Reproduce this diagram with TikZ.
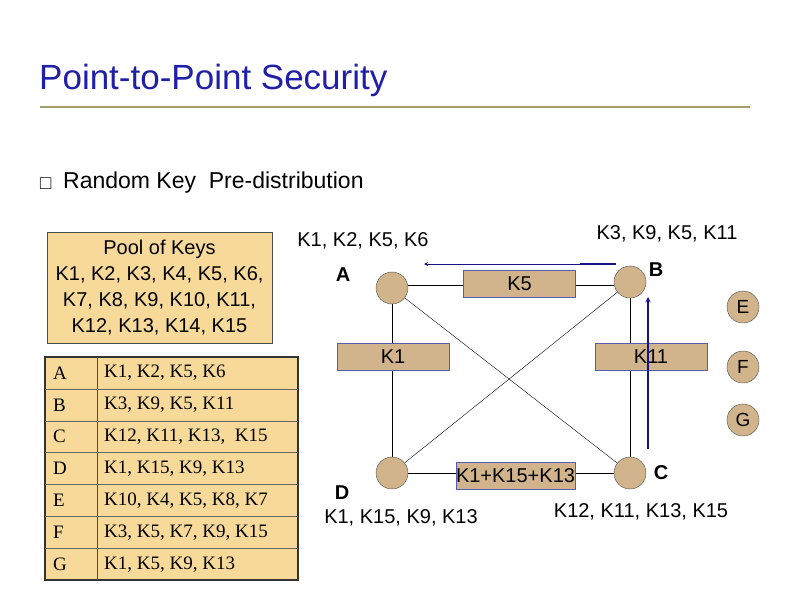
\documentclass[tikz,border=0pt]{standalone}
\usepackage{fontspec}
\setmainfont{Liberation Sans}
\newfontfamily\tms{Liberation Serif}
\usepackage{amssymb}
\definecolor{titleblue}{HTML}{1F1FA8}
\definecolor{olive}{HTML}{A0A070}
\definecolor{tan}{HTML}{D2B48C}
\definecolor{pool}{HTML}{F7D99A}
\definecolor{arr}{HTML}{14148C}
\begin{document}
\begin{tikzpicture}[x=1pt,y=-1pt,
  nd/.style={circle,draw=black!70,fill=tan,minimum size=32pt,inner sep=0pt,font=\fontsize{19}{19}\selectfont},
  kb/.style={draw=arr!70,fill=tan,minimum width=112pt,minimum height=27pt,inner sep=0pt,font=\fontsize{20}{20}\selectfont},
  lb/.style={font=\fontsize{20}{20}\selectfont,inner sep=0pt},
  bl/.style={font=\bfseries\fontsize{20}{20}\selectfont,inner sep=0pt},
  tc/.style={font=\tms\fontsize{19}{19}\selectfont,anchor=west,inner sep=0pt}]
\useasboundingbox (0,0) rectangle (794,595);
\node[anchor=west,text=titleblue,font=\fontsize{35}{35}\selectfont,inner sep=0pt] (title) at (39,80) {Point-to-Point Security};
\draw[olive,line width=2.5pt] (40,107) -- (750,107);
\node[anchor=west,inner sep=0pt,font=\fontsize{17}{17}\selectfont] (bul) at (39,184) {$\square$};
\node[anchor=west,inner sep=0pt,font=\fontsize{23}{23}\selectfont] (rk) at (63,183) {Random Key\ \ Pre-distribution};
% pool
\node[draw=black!70,fill=pool,minimum width=225pt,minimum height=111pt,align=center,font=\fontsize{20}{26}\selectfont] (poolbox) at (159.5,287.5) {Pool of Keys\\K1, K2, K3, K4, K5, K6,\\K7, K8, K9, K10, K11,\\K12, K13, K14, K15};
% table
\fill[pool] (45,357) rectangle (298,580);
\draw[line width=1.5pt,black!80] (45,357) rectangle (298,580);
\draw[black!70] (97,357) -- (97,580);
\foreach \i in {1,...,6} \draw[black!60] (45,{357+\i*31.86}) -- (298,{357+\i*31.86});
\foreach \n/\k [count=\i from 0] in {A/{K1, K2, K5, K6},B/{K3, K9, K5, K11},C/{K12, K11, K13,\ \ K15},D/{K1, K15, K9, K13},E/{K10, K4, K5, K8, K7},F/{K3, K5, K7, K9, K15},G/{K1, K5, K9, K13}}{
  \node[tc] (r\n) at (53,{373+\i*31.86}) {\n};
  \node[tc] (k\n) at (104,{373+\i*31.86}) {\k};
}
% graph
\node[nd] (A) at (392,288) {};
\node[nd] (B) at (630,282) {};
\node[nd] (C) at (630,473) {};
\node[nd] (D) at (392,473) {};
\node[nd] (E) at (743,307) {E};
\node[nd] (F) at (743,367) {F};
\node[nd] (G) at (743,420) {G};
\draw[thin] (A) -- (C);
\draw[thin] (B) -- (D);
\draw ([yshift=3pt]A.east) -- ([yshift=-3pt]B.west);
\draw (A) -- (D); \draw (B) -- (C); \draw (D) -- (C);
\node[kb] (k5) at (519.5,283.5) {K5};
\node[kb] (k1) at (393,357) {K1};
\node[kb] (k11) at (651,357) {K11};
\node[kb,minimum width=119pt] (k1513) at (515.5,475.5) {K1+K15+K13};
\node[bl] (la) at (343,275) {A};
\node[bl] (lb) at (656,270) {B};
\node[bl] (lc) at (661,473) {C};
\node[bl] (ld) at (342,493) {D};
\node[lb] (ta) at (363,241) {K1, K2, K5, K6};
\node[lb] (tb) at (667,234) {K3, K9, K5, K11};
\node[lb] (td) at (401,518) {K1, K15, K9, K13};
\node[lb] (tc) at (641,512) {K12, K11, K13, K15};
\coordinate (a1) at (616,264); \coordinate (a2) at (424,264);
\coordinate (a3) at (648,449); \coordinate (a4) at (648,297);
\draw[arr,thick,-stealth] (a1) -- (a2);
\draw[arr,line width=1.6pt] (a1) -- ++(-36,0);
\draw[arr,line width=1.3pt,-stealth] (a3) -- (a4);
\end{tikzpicture}
\end{document}
